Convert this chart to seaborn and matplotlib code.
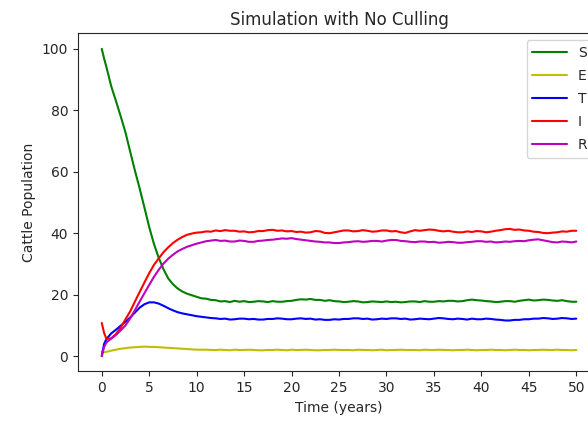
import numpy as np
import matplotlib
matplotlib.use("Agg")
import matplotlib.pyplot as plt
import pandas as pd
import seaborn as sns

# ------------------------------ data ------------------------------
years = [0, 0.25, 0.5, 1, 1.5, 2, 2.5, 3, 3.5, 4, 4.5, 5, 5.5, 6, 6.5, 7, 7.5, 8, 8.5, 9, 9.5,
         10, 10.5, 11, 11.5, 12, 12.5, 13, 13.5, 14, 14.5,
         15, 15.5, 16, 16.5, 17, 17.5, 18, 18.5, 19, 19.5,
         20, 20.5, 21, 21.5, 22, 22.5, 23, 23.5, 24, 24.5,
         25, 25.5, 26, 26.5, 27, 27.5, 28, 28.5, 29, 29.5,
         30, 30.5, 31, 31.5, 32, 32.5, 33, 33.5, 34, 34.5,
         35, 35.5, 36, 36.5, 37, 37.5, 38, 38.5, 39, 39.5,
         40, 40.5, 41, 41.5, 42, 42.5, 43, 43.5, 44, 44.5,
         45, 45.5, 46, 46.5, 47, 47.5, 48, 48.5, 49, 49.5,
         50]

S = [100, 96.8, 94.0, 87.8, 83.0, 78.0, 72.8, 66.5, 60.3, 54.5, 48.3, 42.0, 36.5, 32.0, 28.3, 25.3, 23.4, 22.0, 21.0, 20.3, 19.8,
     19.3, 18.8, 18.7, 18.3, 18.2, 17.8, 17.9, 17.6, 18.0, 17.7,
     17.9, 17.6, 17.7, 17.9, 17.8, 17.6, 17.9, 17.7, 17.7, 17.9,
     18.0, 18.3, 18.5, 18.4, 18.6, 18.3, 18.3, 18.0, 18.2, 17.9,
     17.8, 17.6, 17.7, 17.9, 17.8, 17.5, 17.6, 17.8, 17.7, 17.6,
     17.8, 17.6, 17.7, 17.5, 17.6, 17.8, 17.8, 17.6, 17.9, 17.7,
     17.7, 17.9, 17.8, 18.0, 18.0, 17.8, 17.9, 18.2, 18.4, 18.2,
     18.1, 17.9, 17.8, 17.6, 17.7, 17.9, 17.9, 17.7, 18.0, 18.2,
     18.4, 18.1, 18.2, 18.4, 18.3, 18.1, 18.0, 18.2, 17.9, 17.7,
     17.7]

E = [1.5, 1.3, 1.4, 1.8, 2.1, 2.4, 2.6, 2.8, 2.9, 3.0, 3.1, 3.0, 3.0, 2.9, 2.8, 2.7, 2.6, 2.5, 2.4, 2.3, 2.2,
     2.1, 2.1, 2.1, 2.0, 2.0, 2.1, 2.0, 1.9, 2.1, 2.0,
     2.0, 2.1, 2.0, 1.9, 1.9, 2.0, 2.0, 2.1, 2.0, 1.9,
     2.1, 2.0, 2.0, 2.1, 2.0, 1.9, 1.9, 2.0, 2.0, 2.1,
     2.0, 2.0, 2.0, 1.9, 2.1, 2.0, 2.0, 1.9, 2.0, 2.1,
     1.9, 2.0, 2.0, 2.1, 2.0, 2.0, 2.0, 1.9, 2.1, 2.0,
     2.0, 2.1, 2.0, 2.0, 1.9, 2.0, 2.0, 2.1, 2.0, 1.9,
     2.0, 2.0, 2.1, 2.0, 2.0, 1.9, 2.0, 2.1, 2.0, 2.0,
     1.9, 2.0, 2.0, 2.1, 2.0, 2.0, 2.1, 2.0, 2.0, 1.9,
     2.0]

T = [0, 4.0, 5.6, 7.4, 8.6, 9.9, 11.2, 12.6, 14.2, 15.8, 16.9, 17.5, 17.5, 17.1, 16.4, 15.6, 14.9, 14.3, 13.9, 13.6, 13.3,
     13.0, 12.8, 12.6, 12.4, 12.3, 12.1, 12.2, 11.9, 12.0, 12.2,
     12.2, 12.0, 12.1, 11.9, 11.9, 12.1, 12.1, 12.3, 12.2, 12.0,
     12.0, 12.2, 12.3, 12.1, 12.2, 11.9, 12.0, 11.8, 11.8, 12.0,
     11.9, 12.1, 12.1, 12.3, 12.3, 12.1, 12.2, 11.9, 12.0, 12.2,
     12.1, 12.3, 12.3, 12.1, 12.2, 11.9, 12.0, 12.2, 12.1, 12.0,
     12.2, 12.4, 12.3, 12.1, 12.0, 12.2, 12.1, 11.9, 12.2, 12.0,
     12.0, 12.2, 12.1, 11.9, 11.8, 11.6, 11.6, 11.8, 11.8, 12.0,
     12.0, 12.2, 12.2, 12.4, 12.3, 12.1, 12.2, 12.4, 12.3, 12.1,
     12.2]

I = [10.8, 7.5, 5.6, 5.8, 7.2, 9.3, 12.0, 14.6, 17.8, 20.9, 24.0, 27.0, 29.7, 31.8, 33.8, 35.4, 36.8, 37.9, 38.8, 39.5, 39.9,
     40.2, 40.3, 40.6, 40.5, 40.9, 40.7, 41.0, 40.8, 40.8, 40.5,
     40.6, 40.3, 40.4, 40.7, 40.7, 41.0, 41.1, 40.8, 40.9, 40.6,
     40.7, 40.4, 40.5, 40.2, 40.3, 40.7, 40.6, 40.1, 40.0, 40.3,
     40.6, 40.9, 40.9, 40.6, 40.7, 41.0, 40.8, 40.5, 40.6, 40.9,
     40.9, 40.6, 40.7, 40.3, 40.1, 40.6, 41.0, 40.8, 41.0, 41.2,
     41.1, 40.8, 40.6, 40.8, 40.5, 40.3, 40.3, 40.6, 40.4, 40.7,
     40.6, 40.3, 40.5, 40.8, 41.0, 41.3, 41.4, 41.1, 41.2, 40.9,
     40.8, 40.5, 40.4, 40.1, 40.0, 40.2, 40.3, 40.6, 40.5, 40.8,
     40.8]

R = [0, 3.0, 4.5, 5.7, 6.9, 8.4, 10.0, 12.3, 15.0, 17.8, 20.5, 23.2, 25.8, 28.1, 30.1, 31.7, 33.0, 34.1, 34.9, 35.6, 36.1,
     36.6, 37.0, 37.4, 37.6, 37.8, 37.5, 37.6, 37.3, 37.3, 37.6,
     37.5, 37.2, 37.2, 37.5, 37.6, 37.8, 37.9, 38.1, 38.3, 38.2,
     38.4, 38.1, 37.9, 37.7, 37.5, 37.3, 37.2, 37.0, 37.0, 36.8,
     36.8, 37.0, 37.1, 37.3, 37.4, 37.2, 37.3, 37.5, 37.5, 37.3,
     37.6, 37.8, 37.8, 37.5, 37.4, 37.2, 37.1, 37.3, 37.3, 37.1,
     37.2, 36.9, 37.0, 37.2, 37.1, 36.9, 36.9, 37.1, 37.2, 37.4,
     37.4, 37.2, 37.3, 37.0, 37.1, 37.3, 37.2, 37.4, 37.5, 37.4,
     37.7, 37.9, 38.0, 37.7, 37.4, 37.1, 37.0, 37.3, 37.2, 37.0,
     37.3]

compartments = ['S', 'E', 'T', 'I', 'R']
colores = {'S': 'g', 'E': 'y', 'T': 'b', 'I': 'r', 'R': 'm'}
x_ticks = [0, 5, 10, 15, 20, 25, 30, 35, 40, 45, 50]
y_ticks = [0, 20, 40, 60, 80, 100]

# ------------------------------ plot ------------------------------
sns.set_style("ticks")
plt.rcParams['font.family'] = ['DejaVu Sans']
plt.rcParams['font.size'] = 10

df = pd.DataFrame({'Time': years, 'S': S, 'E': E, 'T': T, 'I': I, 'R': R})

fig = plt.figure(figsize=(5.88, 4.25), dpi=100)
# the reference is cropped on the right, so the axes run past the figure edge
ax = fig.add_axes([0.1327, 0.1259, 0.8878, 0.7953])

for c in compartments:
    sns.lineplot(data=df, x='Time', y=c, color=colores[c], label=c, linewidth=1.5, ax=ax)

ax.set_xticks(x_ticks)
ax.set_yticks(y_ticks)
ax.tick_params(labelsize=10)
ax.set_title('Simulation with No Culling', fontsize=12)
ax.set_xlabel('Time (years)', fontsize=10)
ax.set_ylabel('Cattle Population', fontsize=10)
ax.legend(loc='upper right', fontsize=10, handlelength=2.5, labelspacing=0.65)

fig.savefig('out.png', dpi=100)
